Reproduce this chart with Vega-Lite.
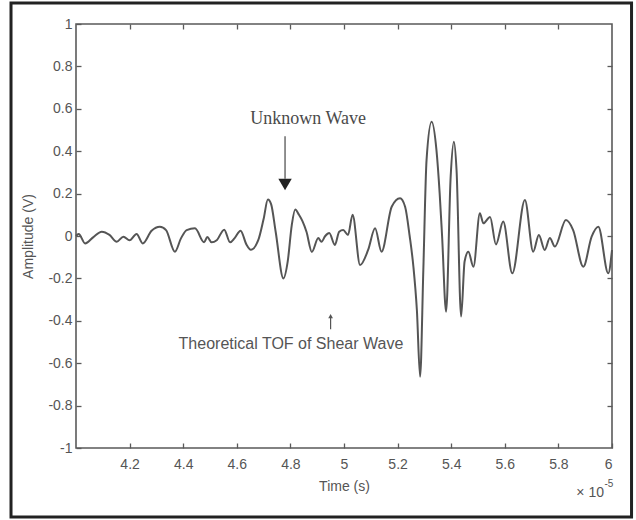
{
  "$schema": "https://vega.github.io/schema/vega-lite/v6.json",
  "width": 536,
  "height": 424,
  "autosize": {"type": "none"},
  "padding": {"left": 76, "top": 24, "right": 24, "bottom": 72},
  "background": "white",
  "config": {
    "view": {"stroke": "#5a5a5a", "strokeWidth": 1.6},
    "axis": {
      "grid": false,
      "domain": false,
      "tickColor": "#5a5a5a",
      "tickWidth": 1.3,
      "tickSize": -5,
      "labelColor": "#555555",
      "labelFont": "Liberation Sans",
      "labelFontSize": 14,
      "titleColor": "#555555",
      "titleFont": "Liberation Sans",
      "titleFontSize": 14,
      "titleFontWeight": "normal"
    }
  },
  "datasets": {
    "wave": [
      {"t": 4.000, "a": 0.00}, {"t": 4.010, "a": 0.01}, {"t": 4.034, "a": -0.035}, {"t": 4.065, "a": -0.005},
      {"t": 4.096, "a": 0.02}, {"t": 4.125, "a": 0.005}, {"t": 4.152, "a": -0.027}, {"t": 4.177, "a": -0.003},
      {"t": 4.200, "a": -0.02}, {"t": 4.226, "a": 0.01}, {"t": 4.249, "a": -0.035}, {"t": 4.282, "a": 0.025},
      {"t": 4.313, "a": 0.044}, {"t": 4.336, "a": 0.028}, {"t": 4.369, "a": -0.074}, {"t": 4.392, "a": -0.01},
      {"t": 4.413, "a": 0.028}, {"t": 4.444, "a": 0.036}, {"t": 4.478, "a": -0.03}, {"t": 4.490, "a": -0.005},
      {"t": 4.506, "a": -0.03}, {"t": 4.525, "a": -0.02}, {"t": 4.553, "a": 0.03}, {"t": 4.575, "a": -0.03},
      {"t": 4.592, "a": -0.01}, {"t": 4.614, "a": 0.025}, {"t": 4.636, "a": -0.04}, {"t": 4.652, "a": -0.065},
      {"t": 4.680, "a": -0.02}, {"t": 4.700, "a": 0.08}, {"t": 4.716, "a": 0.172}, {"t": 4.728, "a": 0.15},
      {"t": 4.745, "a": 0.02}, {"t": 4.774, "a": -0.2}, {"t": 4.790, "a": -0.12}, {"t": 4.805, "a": 0.05},
      {"t": 4.818, "a": 0.125}, {"t": 4.832, "a": 0.1}, {"t": 4.845, "a": 0.07}, {"t": 4.860, "a": 0.02},
      {"t": 4.880, "a": -0.075}, {"t": 4.904, "a": -0.01}, {"t": 4.916, "a": -0.027}, {"t": 4.930, "a": 0.0},
      {"t": 4.945, "a": 0.014}, {"t": 4.966, "a": -0.042}, {"t": 4.982, "a": 0.02}, {"t": 4.997, "a": 0.028},
      {"t": 5.015, "a": 0.005}, {"t": 5.032, "a": 0.10}, {"t": 5.060, "a": -0.137}, {"t": 5.090, "a": -0.066},
      {"t": 5.116, "a": 0.036}, {"t": 5.140, "a": -0.074}, {"t": 5.178, "a": 0.138}, {"t": 5.209, "a": 0.178},
      {"t": 5.228, "a": 0.138}, {"t": 5.245, "a": 0.0}, {"t": 5.259, "a": -0.145}, {"t": 5.272, "a": -0.35},
      {"t": 5.284, "a": -0.664}, {"t": 5.296, "a": -0.16}, {"t": 5.308, "a": 0.358}, {"t": 5.327, "a": 0.539},
      {"t": 5.345, "a": 0.405}, {"t": 5.357, "a": 0.2}, {"t": 5.366, "a": 0.0}, {"t": 5.381, "a": -0.357},
      {"t": 5.398, "a": 0.28}, {"t": 5.410, "a": 0.445}, {"t": 5.420, "a": 0.31}, {"t": 5.437, "a": -0.38},
      {"t": 5.450, "a": -0.12}, {"t": 5.464, "a": -0.074}, {"t": 5.483, "a": -0.145}, {"t": 5.507, "a": 0.107},
      {"t": 5.520, "a": 0.06}, {"t": 5.545, "a": 0.09}, {"t": 5.567, "a": -0.04}, {"t": 5.594, "a": 0.068},
      {"t": 5.628, "a": -0.176}, {"t": 5.675, "a": 0.17}, {"t": 5.706, "a": -0.074}, {"t": 5.727, "a": 0.005},
      {"t": 5.749, "a": -0.066}, {"t": 5.768, "a": -0.01}, {"t": 5.787, "a": -0.05}, {"t": 5.828, "a": 0.075},
      {"t": 5.855, "a": 0.028}, {"t": 5.893, "a": -0.145}, {"t": 5.924, "a": -0.003}, {"t": 5.949, "a": 0.044},
      {"t": 5.986, "a": -0.176}, {"t": 6.000, "a": -0.066}
    ],
    "one": [{}]
  },
  "resolve": {"axis": {"x": "independent", "y": "independent"}},
  "layer": [
    {
      "data": {"name": "wave"},
      "mark": {"type": "line", "color": "#555555", "strokeWidth": 2, "interpolate": "monotone"},
      "encoding": {
        "x": {
          "field": "t", "type": "quantitative",
          "scale": {"domain": [4, 6], "nice": false, "zero": false},
          "axis": {
            "orient": "bottom",
            "values": [4.2, 4.4, 4.6, 4.8, 5.0, 5.2, 5.4, 5.6, 5.8, 6.0],
            "labelExpr": "format(datum.value, '~g')",
            "labelPadding": 14,
            "title": "Time (s)",
            "titlePadding": 8
          }
        },
        "y": {
          "field": "a", "type": "quantitative",
          "scale": {"domain": [-1, 1], "nice": false, "zero": false},
          "axis": {
            "orient": "left",
            "values": [-1, -0.8, -0.6, -0.4, -0.2, 0, 0.2, 0.4, 0.6, 0.8, 1],
            "labelExpr": "replace(format(datum.value, '~g'), '\u2212', '-')",
            "labelPadding": 9,
            "title": "Amplitude (V)",
            "titlePadding": 12
          }
        }
      }
    },
    {
      "data": {"name": "wave"},
      "mark": {"type": "line", "strokeOpacity": 0},
      "encoding": {
        "x": {
          "field": "t", "type": "quantitative",
          "axis": {"orient": "top", "values": [4.2, 4.4, 4.6, 4.8, 5.0, 5.2, 5.4, 5.6, 5.8], "labels": false, "title": null}
        },
        "y": {
          "field": "a", "type": "quantitative",
          "axis": {"orient": "right", "values": [-0.8, -0.6, -0.4, -0.2, 0, 0.2, 0.4, 0.6, 0.8], "labels": false, "title": null}
        }
      }
    },
    {
      "data": {"name": "one"},
      "mark": {"type": "rect", "fill": null, "stroke": "#222222", "strokeWidth": 3, "clip": false},
      "encoding": {
        "x": {"datum": 3.7575, "type": "quantitative", "axis": null},
        "x2": {"datum": 6.0729},
        "y": {"datum": 1.099, "type": "quantitative", "axis": null},
        "y2": {"datum": -1.325}
      }
    },
    {
      "data": {"name": "one"},
      "mark": {"type": "text", "text": "Unknown Wave", "font": "Liberation Serif", "fontSize": 18, "color": "#4a4a4a", "align": "center", "baseline": "middle"},
      "encoding": {
        "x": {"datum": 4.866, "type": "quantitative", "axis": null},
        "y": {"datum": 0.552, "type": "quantitative", "axis": null}
      }
    },
    {
      "data": {"name": "one"},
      "mark": {"type": "rule", "color": "#555555", "strokeWidth": 1.3},
      "encoding": {
        "x": {"datum": 4.78, "type": "quantitative", "axis": null},
        "y": {"datum": 0.47, "type": "quantitative", "axis": null},
        "y2": {"datum": 0.27}
      }
    },
    {
      "data": {"name": "one"},
      "mark": {"type": "point", "shape": "triangle-down", "filled": true, "color": "#222222", "size": 180, "opacity": 1},
      "encoding": {
        "x": {"datum": 4.78, "type": "quantitative", "axis": null},
        "y": {"datum": 0.243, "type": "quantitative", "axis": null}
      }
    },
    {
      "data": {"name": "one"},
      "mark": {"type": "text", "text": "Theoretical TOF of Shear Wave", "font": "Liberation Sans", "fontSize": 16, "color": "#555555", "align": "center", "baseline": "middle"},
      "encoding": {
        "x": {"datum": 4.802, "type": "quantitative", "axis": null},
        "y": {"datum": -0.51, "type": "quantitative", "axis": null}
      }
    },
    {
      "data": {"name": "one"},
      "mark": {"type": "rule", "color": "#555555", "strokeWidth": 1.2},
      "encoding": {
        "x": {"datum": 4.95, "type": "quantitative", "axis": null},
        "y": {"datum": -0.38, "type": "quantitative", "axis": null},
        "y2": {"datum": -0.44}
      }
    },
    {
      "data": {"name": "one"},
      "mark": {"type": "point", "shape": "triangle-up", "filled": true, "color": "#555555", "size": 22, "opacity": 1},
      "encoding": {
        "x": {"datum": 4.95, "type": "quantitative", "axis": null},
        "y": {"datum": -0.378, "type": "quantitative", "axis": null}
      }
    },
    {
      "data": {"name": "one"},
      "mark": {"type": "text", "text": "\u00d7 10", "font": "Liberation Sans", "fontSize": 14, "color": "#555555", "align": "right", "baseline": "middle", "clip": false},
      "encoding": {
        "x": {"datum": 5.97, "type": "quantitative", "axis": null},
        "y": {"datum": -1.212, "type": "quantitative", "axis": null}
      }
    },
    {
      "data": {"name": "one"},
      "mark": {"type": "text", "text": "-5", "font": "Liberation Sans", "fontSize": 10, "color": "#555555", "align": "left", "baseline": "middle", "clip": false},
      "encoding": {
        "x": {"datum": 5.972, "type": "quantitative", "axis": null},
        "y": {"datum": -1.17, "type": "quantitative", "axis": null}
      }
    }
  ]
}
